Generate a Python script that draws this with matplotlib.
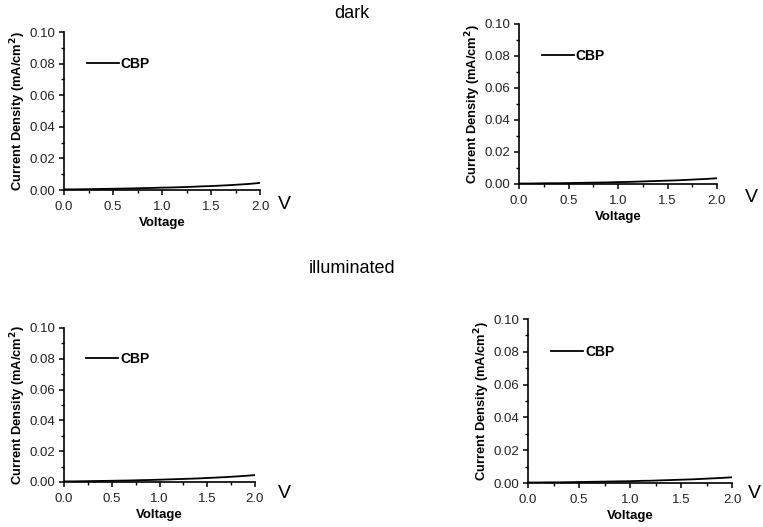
import matplotlib.pyplot as plt
from matplotlib.ticker import MultipleLocator

plt.rcParams['font.family'] = ['Liberation Sans', 'DejaVu Sans']

voltage = [0.0, 0.1, 0.2, 0.3, 0.4, 0.5, 0.6, 0.7, 0.8, 0.9, 1.0,
           1.1, 1.2, 1.3, 1.4, 1.5, 1.6, 1.7, 1.8, 1.9, 2.0]
dark_a = [0.0004, 0.0004, 0.0005, 0.0006, 0.0007, 0.0008, 0.0009, 0.0010, 0.0012, 0.0013, 0.0015,
          0.0016, 0.0018, 0.0020, 0.0023, 0.0025, 0.0028, 0.0031, 0.0035, 0.0039, 0.0045]
dark_b = [0.0003, 0.0003, 0.0004, 0.0005, 0.0005, 0.0006, 0.0007, 0.0008, 0.0009, 0.0010, 0.0012,
          0.0013, 0.0015, 0.0017, 0.0019, 0.0021, 0.0023, 0.0026, 0.0029, 0.0032, 0.0036]
illum_a = [0.0004, 0.0004, 0.0005, 0.0006, 0.0007, 0.0008, 0.0009, 0.0010, 0.0012, 0.0013, 0.0015,
           0.0017, 0.0019, 0.0021, 0.0023, 0.0026, 0.0029, 0.0032, 0.0036, 0.0040, 0.0045]
illum_b = [0.0003, 0.0003, 0.0004, 0.0004, 0.0005, 0.0006, 0.0007, 0.0008, 0.0009, 0.0010, 0.0011,
           0.0013, 0.0014, 0.0016, 0.0018, 0.0020, 0.0022, 0.0025, 0.0028, 0.0031, 0.0035]

W, H = 763, 527
# panel boxes in pixels: left, top, right, bottom
panels = [
    ((64, 32, 260, 190), dark_a, (284, 205)),
    ((519, 24, 717, 184), dark_b, (751, 197)),
    ((64, 328, 255, 482), illum_a, (284, 494)),
    ((528, 319, 732, 483), illum_b, (754, 493)),
]

fig = plt.figure(figsize=(W / 100, H / 100), dpi=100)

for (l, t, r, b), y, vpos in panels:
    ax = fig.add_axes([l / W, 1 - b / H, (r - l) / W, (b - t) / H])
    ax.plot(voltage, y, color='black', lw=1.3, label='CBP')
    ax.set_xlim(0, 2.0)
    ax.set_ylim(0, 0.10)
    ax.spines['top'].set_visible(False)
    ax.spines['right'].set_visible(False)
    for s in ('left', 'bottom'):
        ax.spines[s].set_linewidth(1.2)
    ax.xaxis.set_major_locator(MultipleLocator(0.5))
    ax.xaxis.set_minor_locator(MultipleLocator(0.25))
    ax.yaxis.set_major_locator(MultipleLocator(0.02))
    ax.yaxis.set_minor_locator(MultipleLocator(0.01))
    ax.xaxis.set_major_formatter(lambda v, p: f'{v:.1f}')
    ax.yaxis.set_major_formatter(lambda v, p: f'{v:.2f}')
    ax.tick_params(which='major', direction='out', length=3.5, width=1.1, labelsize=9.5,
                   labelcolor='#222222')
    ax.tick_params(axis='x', which='major', pad=4.5)
    ax.tick_params(axis='y', which='major', pad=3)
    ax.tick_params(which='minor', direction='out', length=2, width=1)
    ax.set_xlabel('Voltage', fontsize=9.5, fontweight='bold', labelpad=3)
    ax.set_ylabel('Current Density (mA/cm$^\\mathbf{2}$)', fontsize=9.3, fontweight='bold', labelpad=1)
    ax.legend(loc='center left', bbox_to_anchor=(0.08, 0.8), frameon=False,
              handlelength=2.3, handletextpad=0.15, borderpad=0,
              prop={'weight': 'bold', 'size': 10})
    fig.text(vpos[0] / W, 1 - vpos[1] / H, 'V', fontsize=14, ha='center', va='center')

fig.text(352 / W, 1 - 14 / H, 'dark', fontsize=13, ha='center', va='center')
fig.text(352 / W, 1 - 269 / H, 'illuminated', fontsize=13, ha='center', va='center')

fig.savefig('out.png', dpi=100)
